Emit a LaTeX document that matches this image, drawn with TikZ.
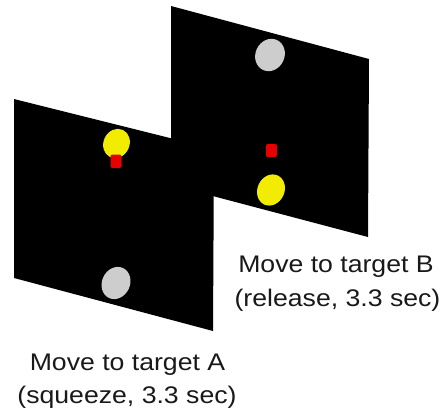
\documentclass[tikz,border=0pt]{standalone}
\usepackage{fontspec}
\setmainfont{Liberation Sans}
\definecolor{dotyellow}{HTML}{F2EC00}
\definecolor{dotgray}{HTML}{CDCDCD}
\definecolor{dotred}{HTML}{E80000}
\tikzset{
  panel/.style={fill=black},
  captiontext/.style={anchor=base, inner sep=0pt, font=\fontsize{24}{34}\selectfont, xscale=1.11, text=black!90},
  ydot/.style={fill=dotyellow},
  gdot/.style={fill=dotgray},
  rdot/.style={fill=dotred, rounded corners=2pt}
}
\begin{document}
\begin{tikzpicture}[x=1pt,y=-1pt]
\useasboundingbox (0,0) rectangle (445,418);
% back panel (target B)
\fill[panel] (171,6) -- (369,59) -- (368,237) -- (171,185) -- cycle;
% front panel (target A)
\fill[panel] (14,99) -- (214,149) -- (213,331) -- (14,278) -- cycle;
% dots on panel A
\fill[ydot, rotate around={-25:(116.5,143.5)}] (116.5,143.5) ellipse [x radius=13, y radius=15];
\fill[rdot] (110.5,154.5) rectangle (121.5,168);
\fill[gdot, rotate around={-25:(116,283)}] (116,283) ellipse [x radius=14, y radius=16.5];
% dots on panel B
\fill[gdot, rotate around={-25:(270,55)}] (270,55) ellipse [x radius=14.5, y radius=16.5];
\fill[rdot] (266,144) rectangle (277,157);
\fill[ydot, rotate around={-25:(271,190)}] (271,190) ellipse [x radius=13.5, y radius=16];
% captions
\node[captiontext] (b1) at (336,272) {Move to target B};
\node[captiontext] (b2) at (337.5,306) {(release, 3.3 sec)};
\node[captiontext] (a1) at (127.5,370) {Move to target A};
\node[captiontext] (a2) at (127,403) {(squeeze, 3.3 sec)};
\end{tikzpicture}
\end{document}
